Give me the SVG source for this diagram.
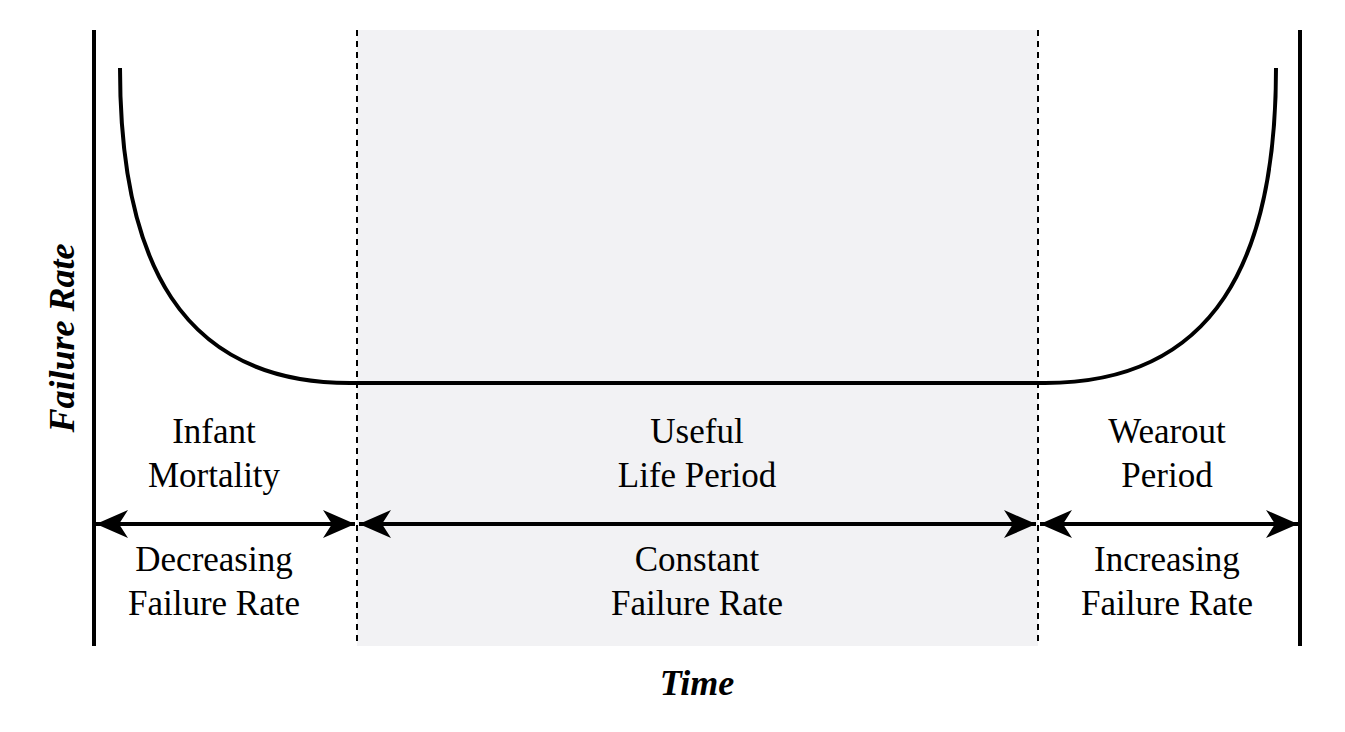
<svg xmlns="http://www.w3.org/2000/svg" width="1345" height="732" viewBox="0 0 1345 732">
<style>
.t{font-family:"Liberation Serif",serif;font-size:35px;fill:#000;text-anchor:middle}
.b{font-weight:bold;font-style:italic;font-size:36px}
.ax{stroke:#000;stroke-width:4;fill:none}
.d{stroke:#000;stroke-width:2;stroke-dasharray:6,5}
.ar{stroke:#000;stroke-width:4}
</style>
<defs>
<marker id="ah" viewBox="0 0 32 28" refX="32" refY="14" markerWidth="32" markerHeight="28" markerUnits="userSpaceOnUse" orient="auto-start-reverse">
<path d="M0,0 L32,14 L0,28 L9,14 Z" fill="#000"/>
</marker>
</defs>
<rect width="1345" height="732" fill="#fff"/>
<rect x="357" y="30" width="681" height="616" fill="#f2f2f4"/>
<g id="axes">
<line class="ax" x1="94" y1="30" x2="94" y2="646"/>
<line class="ax" x1="1300" y1="30" x2="1300" y2="646"/>
<line class="d" x1="357" y1="30" x2="357" y2="646"/>
<line class="d" x1="1038" y1="30" x2="1038" y2="646"/>
</g>
<g id="curve">
<path class="ax" d="M120,68 C120,260 180,383 350,383 L1045,383 C1215,383 1276,260 1276,68"/>
</g>
<g id="connectors">
<line class="ar" x1="96" y1="524" x2="355" y2="524" marker-start="url(#ah)" marker-end="url(#ah)"/>
<line class="ar" x1="359" y1="524" x2="1036" y2="524" marker-start="url(#ah)" marker-end="url(#ah)"/>
<line class="ar" x1="1040" y1="524" x2="1298" y2="524" marker-start="url(#ah)" marker-end="url(#ah)"/>
</g>
<g id="labels">
<text class="t" x="214" y="443">Infant</text>
<text class="t" x="214" y="487">Mortality</text>
<text class="t" x="697" y="443">Useful</text>
<text class="t" x="697" y="487">Life Period</text>
<text class="t" x="1167" y="443">Wearout</text>
<text class="t" x="1167" y="487">Period</text>
<text class="t" x="214" y="571">Decreasing</text>
<text class="t" x="214" y="615">Failure Rate</text>
<text class="t" x="697" y="571">Constant</text>
<text class="t" x="697" y="615">Failure Rate</text>
<text class="t" x="1167" y="571">Increasing</text>
<text class="t" x="1167" y="615">Failure Rate</text>
<text class="t b" x="697" y="695">Time</text>
<text class="t b" transform="translate(74,338) rotate(-90)">Failure Rate</text>
</g>
</svg>
